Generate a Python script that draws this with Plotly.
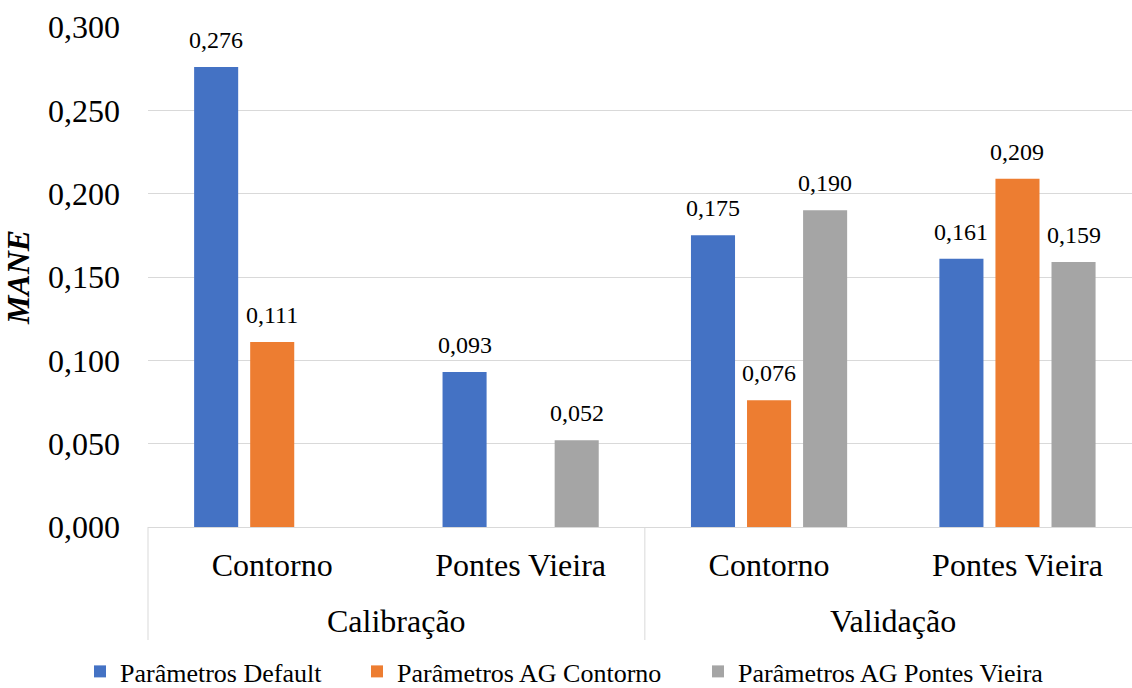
import plotly.graph_objects as go

# Categories (outer: phase, inner: basin)
fases = ["Calibração", "Calibração", "Validação", "Validação"]
bacias = ["Contorno", "Pontes Vieira", "Contorno", "Pontes Vieira"]

# MANE values per parameter set (None = not evaluated)
series_names = ["Parâmetros Default", "Parâmetros AG Contorno", "Parâmetros AG Pontes Vieira"]
mane_default = [0.276, 0.093, 0.175, 0.161]
mane_ag_contorno = [0.111, None, 0.076, 0.209]
mane_ag_pontes = [None, 0.052, 0.190, 0.159]
y_ticks = [0.0, 0.05, 0.10, 0.15, 0.20, 0.25, 0.30]

colors = ["#4472C4", "#ED7D31", "#A5A5A5"]
FONT = "Liberation Serif"
LINE = "#D9D9D9"
BARGAP = 0.323
GROUPGAP = 0.214
XR = [-0.5, 3.461]          # right edge of the chart is trimmed
DIV_DEPTH = 0.226           # divider length below the axis (paper units)
OUTER_Y = -0.188            # outer label row (paper units)

series = [mane_default, mane_ag_contorno, mane_ag_pontes]
legend_ids = ["legend", "legend2", "legend3"]
pos = list(range(len(bacias)))

fig = go.Figure()
for k, (name, vals, col) in enumerate(zip(series_names, series, colors)):
    fig.add_trace(go.Bar(
        x=pos,
        y=vals,
        name=name,
        marker=dict(color=col, line=dict(width=0)),
        legend=legend_ids[k],
        customdata=[f"{f} / {b}" for f, b in zip(fases, bacias)],
        hovertemplate="%{customdata}: %{y:.3f}<extra>" + name + "</extra>",
    ))

# value labels above each bar, placed at the bar's group offset
slot = (1 - BARGAP) / len(series)
annotations = []
for k, vals in enumerate(series):
    for i, v in enumerate(vals):
        if v is None:
            continue
        annotations.append(dict(
            x=i + (k - (len(series) - 1) / 2) * slot,
            y=v,
            xref="x", yref="y",
            text=f"{v:.3f}".replace(".", ","),
            showarrow=False,
            yanchor="bottom",
            yshift=12,
            font=dict(family=FONT, size=24, color="#000000"),
        ))

# outer category row and the dividers between phases
def to_paper(v):
    return (v - XR[0]) / (XR[1] - XR[0])

shapes = []
groups = []
for i, f in enumerate(fases):
    if not groups or groups[-1][0] != f:
        groups.append([f, i, i])
    else:
        groups[-1][2] = i
for f, i0, i1 in groups:
    annotations.append(dict(
        x=(i0 + i1) / 2, y=OUTER_Y, xref="x", yref="paper",
        text=f, showarrow=False, yanchor="middle",
        font=dict(family=FONT, size=32, color="#000000"),
    ))
bounds = sorted({g[1] - 0.5 for g in groups} | {groups[-1][2] + 0.5})
for b in bounds:
    xp = to_paper(b)
    if 0 <= xp <= 1:
        shapes.append(dict(
            type="line", xref="paper", yref="paper",
            x0=xp, x1=xp, y0=0, y1=-DIV_DEPTH,
            line=dict(color=LINE, width=1),
        ))

W, H = 1132, 688
legend_common = dict(
    orientation="h",
    xref="container", yref="container",
    xanchor="left", yanchor="middle",
    y=0.024,
    font=dict(family=FONT, size=26, color="#000000"),
    bgcolor="rgba(0,0,0,0)",
    itemwidth=30,
    itemclick=False,
)

fig.update_layout(
    width=W, height=H,
    margin=dict(l=148, r=0, t=27, b=161, autoexpand=False),
    paper_bgcolor="white",
    plot_bgcolor="white",
    barmode="group",
    bargap=BARGAP,
    bargroupgap=GROUPGAP,
    separators=",.",
    font=dict(family=FONT, color="#000000"),
    annotations=annotations,
    shapes=shapes,
    legend=dict(legend_common, x=80 / W),
    legend2=dict(legend_common, x=357 / W),
    legend3=dict(legend_common, x=698 / W),
    showlegend=True,
)

fig.update_xaxes(
    range=XR,
    tickvals=pos,
    ticktext=bacias,
    showline=True,
    linecolor=LINE,
    linewidth=1,
    showgrid=False,
    zeroline=False,
    ticks="",
    ticklabelstandoff=10,
    tickfont=dict(family=FONT, size=32, color="#000000"),
    automargin=False,
)

fig.update_yaxes(
    range=[0, 0.3],
    tickvals=y_ticks,
    tickformat=".3f",
    showgrid=True,
    gridcolor=LINE,
    gridwidth=1,
    zeroline=False,
    showline=False,
    ticks="",
    ticklabelstandoff=27,
    tickfont=dict(family=FONT, size=32, color="#000000"),
    title=dict(text="<b><i>MANE</i></b>", font=dict(family=FONT, size=32, color="#000000"), standoff=8),
    automargin=False,
)

fig.write_html("out.html")
